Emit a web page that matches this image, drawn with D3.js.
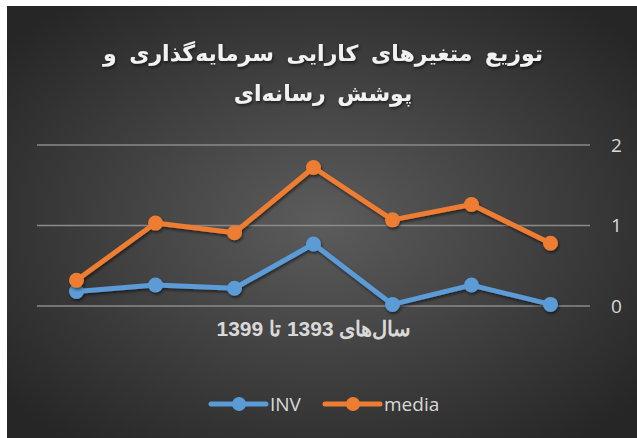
<!DOCTYPE html>
<html>
<head>
<meta charset="utf-8">
<script src="https://cdn.jsdelivr.net/npm/d3@7"></script>
<style>
  body { margin: 0; background: #ffffff; }
  svg { display: block; }
</style>
</head>
<body>
<div id="chart"></div>
<script>
const years = ["1393", "1394", "1395", "1396", "1397", "1398", "1399"];
const invValues = [0.18, 0.26, 0.22, 0.77, 0.02, 0.26, 0.02];
const mediaValues = [0.32, 1.03, 0.91, 1.72, 1.07, 1.26, 0.78];
const yTicks = [0, 1, 2];
const titleLines = ["توزیع متغیرهای کارایی سرمایه‌گذاری و", "پوشش رسانه‌ای"];
const xTitle = "سال‌های 1393 تا 1399";

const series = [
  { name: "INV", values: invValues, color: "#5B9BD5" },
  { name: "media", values: mediaValues, color: "#ED7D31" }
];

const width = 637, height = 438;
const plot = { left: 37, right: 590, top: 145, bottom: 306 };

const svg = d3.select("#chart").append("svg")
  .attr("width", width)
  .attr("height", height);

const defs = svg.append("defs");
const grad = defs.append("radialGradient")
  .attr("id", "bg")
  .attr("cx", "50%").attr("cy", "50%").attr("r", "65%");
grad.append("stop").attr("offset", "0%").attr("stop-color", "#5c5c5c");
grad.append("stop").attr("offset", "100%").attr("stop-color", "#262626");

const shadow = defs.append("filter")
  .attr("id", "shadow")
  .attr("x", "-20%").attr("y", "-20%").attr("width", "140%").attr("height", "140%");
shadow.append("feDropShadow")
  .attr("dx", 1).attr("dy", 2).attr("stdDeviation", 1.5)
  .attr("flood-color", "#000").attr("flood-opacity", 0.55);

// background panel
svg.append("rect")
  .attr("x", 7).attr("y", 6)
  .attr("width", width - 7).attr("height", height - 6)
  .attr("fill", "url(#bg)");

// title
svg.append("g").selectAll("text")
  .data(titleLines)
  .enter()
  .append("text")
  .attr("x", 323)
  .attr("y", (d, i) => 61 + i * 40)
  .attr("text-anchor", "middle")
  .attr("direction", "rtl")
  .attr("font-family", "DejaVu Sans")
  .attr("font-weight", "bold")
  .attr("font-size", "22px")
  .attr("word-spacing", (d, i) => i === 0 ? "5px" : "4px")
  .attr("fill", "#f2f2f2")
  .attr("filter", "url(#shadow)")
  .text(d => d);

const xScale = d3.scaleBand()
  .domain(years)
  .range([plot.left, plot.right]);

const yScale = d3.scaleLinear()
  .domain([0, 2])
  .range([plot.bottom, plot.top]);

// gridlines
svg.append("g").selectAll("line")
  .data(yTicks)
  .enter()
  .append("line")
  .attr("x1", plot.left)
  .attr("x2", plot.right)
  .attr("y1", d => yScale(d))
  .attr("y2", d => yScale(d))
  .attr("stroke", "#8a8a8a")
  .attr("stroke-width", 1.5);

// right axis labels
const yAxis = svg.append("g")
  .attr("transform", `translate(${plot.right + 21},0)`)
  .call(d3.axisRight(yScale).tickValues(yTicks).tickSize(0).tickPadding(0).tickFormat(d3.format("d")));
yAxis.select(".domain").remove();
yAxis.selectAll("text")
  .attr("font-family", "Open Sans")
  .attr("font-size", "19px")
  .attr("fill", "#d9d9d9")
  .attr("text-anchor", "start");

// lines
const line = d3.line()
  .x((d, i) => xScale(years[i]) + xScale.bandwidth() / 2)
  .y(d => yScale(d));

series.forEach(s => {
  const g = svg.append("g").attr("filter", "url(#shadow)");
  g.append("path")
    .datum(s.values)
    .attr("d", line)
    .attr("fill", "none")
    .attr("stroke", s.color)
    .attr("stroke-width", 5)
    .attr("stroke-linejoin", "round")
    .attr("stroke-linecap", "round");
  g.selectAll("circle")
    .data(s.values)
    .enter()
    .append("circle")
    .attr("cx", (d, i) => xScale(years[i]) + xScale.bandwidth() / 2)
    .attr("cy", d => yScale(d))
    .attr("r", 7.5)
    .attr("fill", s.color);
});

// x-axis title
svg.append("text")
  .attr("x", 314)
  .attr("y", 336)
  .attr("text-anchor", "middle")
  .attr("direction", "rtl")
  .attr("font-family", "Liberation Sans")
  .attr("font-weight", "bold")
  .attr("font-size", "21px")
  .attr("fill", "#d9d9d9")
  .text(xTitle);

// legend
const legendX = [211, 325];
const legend = svg.append("g").selectAll("g")
  .data(series)
  .enter()
  .append("g")
  .attr("transform", (d, i) => `translate(${legendX[i]},404)`);
legend.append("line")
  .attr("x1", 0).attr("x2", 55)
  .attr("stroke", d => d.color)
  .attr("stroke-width", 5)
  .attr("stroke-linecap", "round");
legend.append("circle")
  .attr("cx", 28).attr("r", 7)
  .attr("fill", d => d.color);
legend.append("text")
  .attr("x", 59)
  .attr("y", 7)
  .attr("font-family", "Open Sans")
  .attr("font-size", "19px")
  .attr("fill", "#d9d9d9")
  .text(d => d.name);
</script>
</body>
</html>
